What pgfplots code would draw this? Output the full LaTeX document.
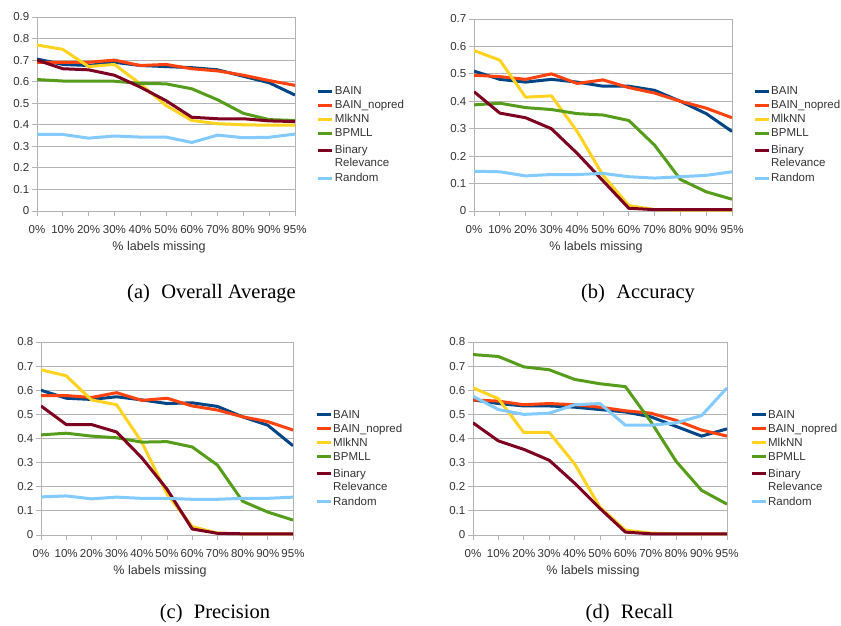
\documentclass[border=0pt]{standalone}
\usepackage{pgfplots}
\usepackage{pgfplotstable}
\pgfplotsset{compat=1.18}
\usepackage{fontspec}
\setmainfont{Liberation Serif}
\newfontfamily\chartfont{Liberation Sans}
\definecolor{cBAIN}{HTML}{004586}
\definecolor{cNOP}{HTML}{FF420E}
\definecolor{cMLK}{HTML}{FFD320}
\definecolor{cBPM}{HTML}{579D1C}
\definecolor{cBR}{HTML}{7E0021}
\definecolor{cRND}{HTML}{83CAFF}
\definecolor{gridgray}{HTML}{B3B3B3}
\definecolor{labelgray}{HTML}{333333}

\pgfplotstableread{
x bain nopred mlknn bpmll br rand
0 0.705 0.690 0.770 0.610 0.700 0.355
1 0.680 0.690 0.750 0.603 0.660 0.355
2 0.675 0.690 0.670 0.602 0.655 0.338
3 0.690 0.700 0.680 0.602 0.630 0.348
4 0.675 0.675 0.590 0.592 0.575 0.343
5 0.670 0.680 0.490 0.590 0.512 0.343
6 0.665 0.660 0.420 0.567 0.435 0.318
7 0.655 0.650 0.405 0.516 0.428 0.352
8 0.625 0.630 0.400 0.453 0.428 0.340
9 0.595 0.605 0.398 0.424 0.418 0.342
10 0.538 0.583 0.398 0.420 0.415 0.357
}\tavg

\pgfplotstableread{
x bain nopred mlknn bpmll br rand
0 0.510 0.495 0.585 0.387 0.435 0.145
1 0.480 0.490 0.550 0.393 0.357 0.143
2 0.470 0.480 0.415 0.377 0.340 0.128
3 0.480 0.500 0.420 0.370 0.300 0.133
4 0.470 0.465 0.290 0.355 0.210 0.133
5 0.455 0.478 0.130 0.350 0.110 0.137
6 0.455 0.450 0.020 0.330 0.010 0.125
7 0.440 0.430 0.005 0.240 0.005 0.120
8 0.400 0.400 0.003 0.115 0.005 0.125
9 0.355 0.375 0.003 0.070 0.005 0.130
10 0.290 0.340 0.003 0.043 0.005 0.143
}\tacc

\pgfplotstableread{
x bain nopred mlknn bpmll br rand
0 0.600 0.578 0.685 0.415 0.535 0.158
1 0.567 0.578 0.660 0.422 0.458 0.162
2 0.562 0.570 0.560 0.410 0.458 0.150
3 0.573 0.590 0.540 0.403 0.427 0.157
4 0.560 0.558 0.385 0.385 0.320 0.152
5 0.545 0.567 0.170 0.387 0.190 0.152
6 0.548 0.535 0.035 0.365 0.025 0.148
7 0.533 0.518 0.008 0.290 0.007 0.148
8 0.490 0.490 0.005 0.140 0.005 0.152
9 0.455 0.470 0.005 0.095 0.005 0.152
10 0.370 0.435 0.005 0.062 0.005 0.157
}\tpre

\pgfplotstableread{
x bain nopred mlknn bpmll br rand
0 0.560 0.560 0.610 0.748 0.465 0.575
1 0.545 0.555 0.565 0.740 0.390 0.520
2 0.535 0.540 0.425 0.697 0.355 0.500
3 0.535 0.545 0.425 0.685 0.310 0.505
4 0.530 0.540 0.295 0.645 0.215 0.540
5 0.520 0.530 0.115 0.627 0.110 0.545
6 0.510 0.515 0.020 0.615 0.012 0.455
7 0.490 0.505 0.008 0.470 0.005 0.455
8 0.450 0.475 0.005 0.305 0.005 0.465
9 0.410 0.435 0.005 0.185 0.005 0.495
10 0.440 0.410 0.005 0.128 0.005 0.610
}\trec

\pgfplotsset{
  myax/.style={
    scale only axis,
    anchor=south west,
    xmin=0, xmax=10, ymin=0,
    xtick={0,...,10},
    xticklabels={0\%,10\%,20\%,30\%,40\%,50\%,60\%,70\%,80\%,90\%,95\%},
    ytick distance=0.1,
    axis line style={draw=gridgray, line width=0.8pt},
    ymajorgrids,
    grid style={draw=gridgray, line width=0.8pt},
    tick style={draw=gridgray, line width=0.8pt},
    tick align=outside,
    tick pos=left,
    major tick length=5pt,
    /pgf/number format/assume math mode=true,
    tick label style={font=\chartfont\fontsize{11.5}{13}\selectfont, text=labelgray},
    y tick label style={/pgf/number format/fixed, /pgf/number format/precision=1},
    xticklabel style={anchor=base, yshift=-17pt, inner sep=0pt},
    yticklabel style={inner sep=2.5pt},
    xlabel={\% labels missing},
    xlabel style={font=\chartfont\fontsize{12.5}{14}\selectfont, text=labelgray,
      at={(axis description cs:0.5,0)}, anchor=base, yshift=-39pt, xshift=-7pt, inner sep=0pt},
    every axis plot/.append style={line width=3pt, line join=round, mark=none},
    legend style={draw=none, fill=none, inner sep=0pt, outer sep=0pt,
      anchor=north west, row sep=0pt, /tikz/column sep=1pt,
      nodes={inner sep=0pt, font=\chartfont\fontsize{11.5}{14}\selectfont, text=labelgray,
        text height=9.5pt, text depth=4.5pt},
      cells={anchor=base west}},
    legend image code/.code={\draw[#1, line width=3pt] (0pt,3.8pt) -- (14pt,3.8pt);},
  },
}

\newcommand{\allplots}[1]{%
  \addplot[cBAIN] table[x=x,y=bain]{#1};
  \addlegendentry{BAIN}
  \addplot[cNOP] table[x=x,y=nopred]{#1};
  \addlegendentry{BAIN\_nopred}
  \addplot[cMLK] table[x=x,y=mlknn]{#1};
  \addlegendentry{MlkNN}
  \addplot[cBPM] table[x=x,y=bpmll]{#1};
  \addlegendentry{BPMLL}
  \addplot[cBR] table[x=x,y=br]{#1};
  \addlegendentry[text height=12.5pt]{Binary}
  \addlegendimage{empty legend}
  \addlegendentry[text height=8.5pt]{Relevance}
  \addplot[cRND] table[x=x,y=rand]{#1};
  \addlegendentry[text height=10.5pt]{Random}
}

\begin{document}
\begin{tikzpicture}[x=1pt,y=1pt]
\useasboundingbox (0,-625) rectangle (841,0);

\begin{axis}[myax, at={(37pt,-211pt)}, width=258pt, height=194pt, ymax=0.9,
  legend style={at={(1.085,0.647)}}]
\allplots{\tavg}
\end{axis}

\begin{axis}[myax, at={(474pt,-211pt)}, width=258pt, height=192pt, ymax=0.7,
  legend style={at={(1.082,0.654)}}]
\allplots{\tacc}
\end{axis}

\begin{axis}[myax, at={(41pt,-535pt)}, width=252pt, height=193pt, ymax=0.8,
  legend style={at={(1.088,0.655)}}]
\allplots{\tpre}
\end{axis}

\begin{axis}[myax, at={(473pt,-535pt)}, width=254pt, height=193pt, ymax=0.8,
  legend style={at={(1.091,0.655)}}]
\allplots{\trec}
\end{axis}

\node[anchor=base, font=\fontsize{20.5}{24}\selectfont] at (211.5,-298) {(a)\hspace{0.55em}Overall Average};
\node[anchor=base, font=\fontsize{20.5}{24}\selectfont] at (638,-298) {(b)\hspace{0.55em}Accuracy};
\node[anchor=base, font=\fontsize{20.5}{24}\selectfont] at (215,-618) {(c)\hspace{0.55em}Precision};
\node[anchor=base, font=\fontsize{20.5}{24}\selectfont] at (629.5,-618) {(d)\hspace{0.55em}Recall};
\end{tikzpicture}
\end{document}
